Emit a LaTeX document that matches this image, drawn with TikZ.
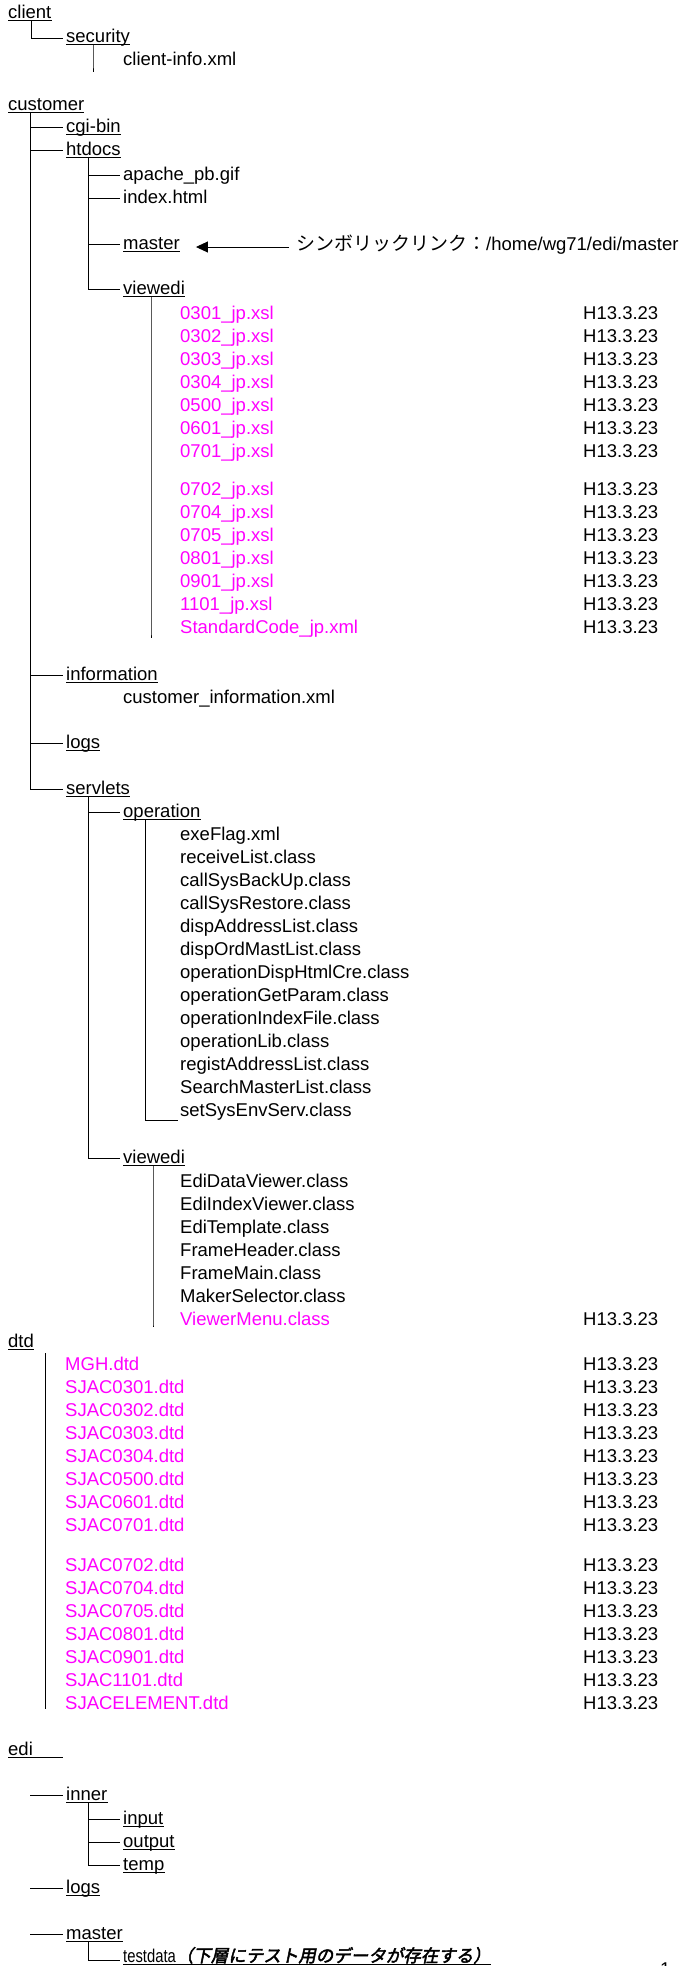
\documentclass[tikz,border=0pt]{standalone}
\usepackage{fontspec}
\usepackage{graphicx}
\usepackage{xcolor}
\usetikzlibrary{arrows.meta}
\setmainfont{Liberation Sans}
\newfontfamily\jp{Noto Sans CJK JP}
\newfontfamily\jpbi{Noto Sans CJK JP}[FakeBold=2.5,FakeSlant=0.2]
\definecolor{xslpink}{RGB}{255,0,255}
\tikzset{
  tree/.style={draw, black, line width=1pt},
  uline/.style={draw, black, line width=1pt},
  file/.style={anchor=base west},
  dir/.style={file, append after command={([yshift=-2.5pt]\tikzlastnode.base west) edge[uline] ([yshift=-2.5pt]\tikzlastnode.base east)}},
  mag/.style={file, text=xslpink},
  date/.style={file}
}
\begin{document}
\begin{tikzpicture}[x=1pt,y=-1pt]
\tikzstyle{every node}+=[inner sep=0pt, font=\fontsize{18.5}{22}\selectfont]
\useasboundingbox (0,0) rectangle (687,1966);
% client
\node[dir] (cli) at (8,18) {client};
\node[dir] (sec) at (66,42) {security};
\node[file] (cinf) at (123,65) {client-info.xml};
\draw[tree] ([xshift=23pt,yshift=-3pt]cli.base west) |- ([xshift=-3pt,yshift=4pt]sec.base west);
\coordinate (sv) at ([xshift=27pt,yshift=-3pt]sec.base west);
\draw[tree] (sv) -- (sv |- cinf.base) -- ++(0,7);
% customer
\node[dir] (cus) at (8,110) {customer};
\node[dir] (cgi) at (66,132) {cgi-bin};
\node[dir] (htd) at (66,155) {htdocs};
\node[file] (apa) at (123,180) {apache\_pb.gif};
\node[file] (idx) at (123,203) {index.html};
\node[dir] (mst) at (123,249) {master};
\node[dir] (vwa) at (123,294) {viewedi};
\node[file] (lnk) at (296,250) {{\jp\fontsize{19}{22}\selectfont シンボリックリンク：}/home/wg71/edi/master};
\draw[-{Triangle[length=12pt,width=11pt]}, line width=0.9pt] ([xshift=-7pt,yshift=3pt]lnk.base west) -- ([xshift=16pt,yshift=2pt]mst.base east);
\foreach \f [count=\i from 0] in {0301,0302,0303,0304,0500,0601,0701}{
  \node[mag] (x\f) at (180,{319+23*\i}) {\f\_jp.xsl};
  \node[date] (d\f) at (583,{319+23*\i}) {H13.3.23};
}
\foreach \f [count=\i from 0] in {0702,0704,0705,0801,0901,1101}{
  \node[mag] (x\f) at (180,{495+23*\i}) {\f\_jp.xsl};
  \node[date] (d\f) at (583,{495+23*\i}) {H13.3.23};
}
\node[mag] (std) at (180,633) {StandardCode\_jp.xml};
\node[date] (dstd) at (583,633) {H13.3.23};
\node[dir] (inf) at (66,680) {information};
\node[file] (cinfo) at (123,703) {customer\_information.xml};
\node[dir] (log) at (66,748) {logs};
\node[dir] (srv) at (66,794) {servlets};
\node[dir] (ope) at (123,817) {operation};
\foreach \f [count=\i from 0] in {exeFlag.xml,receiveList.class,callSysBackUp.class,callSysRestore.class,dispAddressList.class,dispOrdMastList.class,operationDispHtmlCre.class,operationGetParam.class,operationIndexFile.class,operationLib.class,registAddressList.class,SearchMasterList.class,setSysEnvServ.class}
  \node[file] (op\i) at (180,{840+23*\i}) {\f};
\node[dir] (vwb) at (123,1163) {viewedi};
\foreach \f [count=\i from 0] in {EdiDataViewer.class,EdiIndexViewer.class,EdiTemplate.class,FrameHeader.class,FrameMain.class,MakerSelector.class}
  \node[file] (ed\i) at (180,{1187+23*\i}) {\f};
\node[mag] (vmn) at (180,1325) {ViewerMenu.class};
\node[date] (dvmn) at (583,1325) {H13.3.23};
% tree lines of customer
\foreach \n in {cgi,htd,inf,log,srv}
  \draw[tree] ([xshift=22pt,yshift=-3pt]cus.base west) |- ([xshift=-3pt,yshift=5pt]\n.base west);
\foreach \n in {apa,idx,mst,vwa}
  \draw[tree] ([xshift=22pt,yshift=-3pt]htd.base west) |- ([xshift=-3pt,yshift=5pt]\n.base west);
\coordinate (va) at ([xshift=28pt,yshift=-3pt]vwa.base west);
\draw[tree] (va) -- (va |- std.base) -- ++(0,5);
\foreach \n in {ope,vwb}
  \draw[tree] ([xshift=22pt,yshift=-3pt]srv.base west) |- ([xshift=-3pt,yshift=5pt]\n.base west);
\draw[tree] ([xshift=22.5pt,yshift=-3pt]ope.base west) |- ([xshift=-2.5pt,yshift=-4pt]op12.base west);
\coordinate (vb) at ([xshift=30pt,yshift=-3pt]vwb.base west);
\draw[tree] (vb) -- (vb |- vmn.base) -- ++(0,2);
% dtd
\node[dir] (dtd) at (8,1347) {dtd};
\foreach \f [count=\i from 0] in {MGH,SJAC0301,SJAC0302,SJAC0303,SJAC0304,SJAC0500,SJAC0601,SJAC0701}{
  \node[mag] (t\i) at (65,{1370+23*\i}) {\f.dtd};
  \node[date] (dt\i) at (583,{1370+23*\i}) {H13.3.23};
}
\foreach \f [count=\i from 8] in {SJAC0702,SJAC0704,SJAC0705,SJAC0801,SJAC0901,SJAC1101,SJACELEMENT}{
  \node[mag] (t\i) at (65,{1571+23*(\i-8)}) {\f.dtd};
  \node[date] (dt\i) at (583,{1571+23*(\i-8)}) {H13.3.23};
}
\coordinate (dv) at ([xshift=37.5pt,yshift=-6pt]dtd.base west);
\draw[tree] (dv) -- (dv |- t14.base);
% edi
\node[file] (edi) at (8,1755) {edi};
\draw[uline] ([yshift=-2.5pt]edi.base west) -- ++(55,0);
\node[dir] (inn) at (66,1800) {inner};
\node[dir] (inp) at (123,1824) {input};
\node[dir] (out) at (123,1847) {output};
\node[dir] (tmp) at (123,1870) {temp};
\node[dir] (elg) at (66,1893) {logs};
\node[dir] (ems) at (66,1939) {master};
\node[dir] (tst) at (123,1962) {\scalebox{0.8}[1]{testdata}{\jpbi\fontsize{17.5}{20}\selectfont （下層にテスト用のデータが存在する）}};
\foreach \n in {inn,elg,ems}
  \draw[tree] ([xshift=-36pt,yshift=5pt]\n.base west) -- ([xshift=-3pt,yshift=5pt]\n.base west);
\foreach \n in {inp,out,tmp}
  \draw[tree] ([xshift=22pt,yshift=-3pt]inn.base west) |- ([xshift=-3pt,yshift=5pt]\n.base west);
\draw[tree] ([xshift=22pt,yshift=-3pt]ems.base west) |- ([xshift=-3pt,yshift=2pt]tst.base west);
\node[file] (pg) at (660,1975) {1};
\end{tikzpicture}
\end{document}
